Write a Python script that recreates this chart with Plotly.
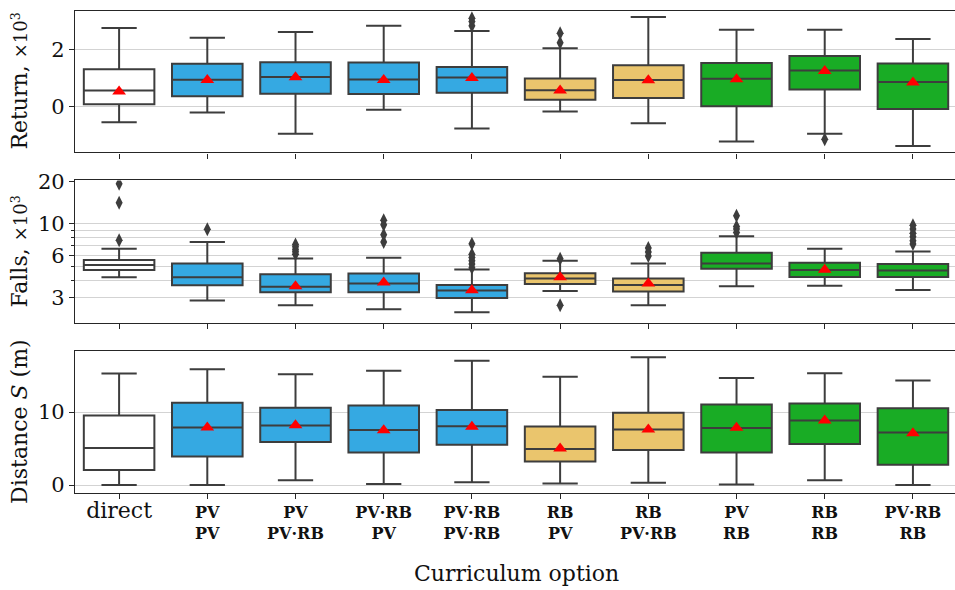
import plotly.graph_objects as go

# ---------------- data ----------------
stage1 = ["direct", "PV", "PV", "PV·RB", "PV·RB", "RB", "RB", "PV", "RB", "PV·RB"]
stage2 = ["", "PV", "PV·RB", "PV", "PV·RB", "PV", "PV·RB", "RB", "RB", "RB"]
box_colors = ["#FFFFFF", "#35A9E2", "#35A9E2", "#35A9E2", "#35A9E2",
              "#EAC56D", "#EAC56D", "#19AC25", "#19AC25", "#19AC25"]

# Return (x10^3)
ret_low = [-0.54, -0.20, -0.94, -0.10, -0.76, -0.16, -0.58, -1.22, -0.94, -1.37]
ret_q1 = [0.09, 0.37, 0.46, 0.45, 0.49, 0.25, 0.31, 0.02, 0.61, -0.08]
ret_med = [0.57, 0.95, 1.05, 0.96, 1.03, 0.58, 0.94, 0.98, 1.27, 0.87]
ret_q3 = [1.32, 1.51, 1.56, 1.55, 1.40, 0.99, 1.46, 1.54, 1.78, 1.52]
ret_high = [2.76, 2.42, 2.62, 2.84, 2.66, 2.05, 3.15, 2.70, 2.70, 2.38]
ret_mean = [0.54, 0.94, 1.04, 0.94, 1.01, 0.57, 0.93, 0.97, 1.26, 0.85]
ret_out = [[], [], [], [], [2.84, 2.99, 3.11], [2.25, 2.58], [], [], [-1.14], []]

# Falls (x10^3)
fall_low = [4.20, 2.88, 2.66, 2.50, 2.38, 3.36, 2.66, 3.62, 3.66, 3.41]
fall_q1 = [4.73, 3.68, 3.29, 3.29, 2.99, 3.76, 3.33, 4.83, 4.22, 4.22]
fall_med = [5.13, 4.20, 3.60, 3.80, 3.38, 4.11, 3.70, 5.26, 4.73, 4.68]
fall_q3 = [5.56, 5.26, 4.41, 4.46, 3.70, 4.48, 4.11, 6.25, 5.32, 5.21]
fall_high = [6.67, 7.45, 5.70, 5.77, 4.76, 5.50, 5.26, 8.17, 6.67, 6.39]
fall_mean = [None, None, 3.62, 3.85, 3.40, 4.20, 3.80, None, 4.75, None]
fall_out = [[7.66, 14.1, 19.2], [9.18], [6.1, 6.35, 6.6, 6.9, 7.15],
            [7.45, 8.38, 9.85, 10.6], [4.9, 5.2, 5.5, 5.8, 6.1, 7.25],
            [5.68, 2.66], [5.93, 6.32, 6.77], [8.71, 9.19, 9.6, 11.4], [],
            [7.2, 7.6, 8.1, 8.6, 9.2, 9.8]]

# Distance S (m)
dist_low = [0.0, 0.0, 0.68, 0.14, 0.40, 0.22, 0.31, 0.08, 0.68, 0.0]
dist_q1 = [2.07, 3.92, 5.90, 4.45, 5.54, 3.24, 4.82, 4.45, 5.63, 2.79]
dist_med = [5.08, 7.88, 8.15, 7.56, 8.06, 4.95, 7.61, 7.83, 8.83, 7.20]
dist_q3 = [9.54, 11.26, 10.58, 10.90, 10.27, 8.01, 9.90, 11.03, 11.17, 10.54]
dist_high = [15.27, 15.85, 15.18, 15.67, 17.03, 14.82, 17.52, 14.68, 15.31, 14.32]
dist_mean = [None, 7.9, 8.2, 7.5, 8.0, 5.0, 7.6, 7.85, 8.85, 7.1]
dist_out = [[] for _ in range(10)]

# ---------------- figure ----------------
FONT = "DejaVu Serif"
LINE = "#3d3d3d"
fig = go.Figure()

panels = [
    ("x", "y", ret_low, ret_q1, ret_med, ret_q3, ret_high, ret_mean, ret_out),
    ("x2", "y2", fall_low, fall_q1, fall_med, fall_q3, fall_high, fall_mean, fall_out),
    ("x3", "y3", dist_low, dist_q1, dist_med, dist_q3, dist_high, dist_mean, dist_out),
]

for xa, ya, lo, q1, md, q3, hi, mn, outs in panels:
    for i in range(len(stage1)):
        fig.add_trace(go.Box(
            x=[i], q1=[q1[i]], median=[md[i]], q3=[q3[i]],
            lowerfence=[lo[i]], upperfence=[hi[i]],
            width=0.8, whiskerwidth=0.5, boxpoints=False,
            fillcolor=box_colors[i], line=dict(color=LINE, width=2),
            xaxis=xa, yaxis=ya, showlegend=False, hoverinfo="skip"))
    ox, oy = [], []
    for i, vals in enumerate(outs):
        for v in vals:
            ox.append(i)
            oy.append(v)
    if ox:
        fig.add_trace(go.Scatter(
            x=ox, y=oy, mode="markers", xaxis=xa, yaxis=ya, showlegend=False,
            marker=dict(symbol="diamond-tall", size=10, color=LINE,
                        line=dict(width=0)), hoverinfo="skip"))
    mx = [i for i, v in enumerate(mn) if v is not None]
    my = [v for v in mn if v is not None]
    fig.add_trace(go.Scatter(
        x=mx, y=my, mode="markers", xaxis=xa, yaxis=ya, showlegend=False,
        marker=dict(symbol="triangle-up", size=12, color="red",
                    line=dict(width=0)), hoverinfo="skip"))

tick_text = []
for a, b in zip(stage1, stage2):
    if b == "":
        tick_text.append(f"<span style='font-size:22px;font-weight:normal'>{a}</span>")
    else:
        tick_text.append(f"<b>{a}</b><br><b>{b}</b>")

H = 590
bottom_px = 493.3
plot_h = H - 5 - (H - bottom_px)


def ydom(top_px, bot_px):
    return [(bottom_px - bot_px) / plot_h, (bottom_px - top_px) / plot_h]


xcommon = dict(range=[-0.5, 9.477], showline=True, linecolor="#262626",
               linewidth=1.2, mirror=True, ticks="outside", ticklen=5,
               tickcolor="#262626", tickvals=list(range(10)), showgrid=False,
               zeroline=False)
ycommon = dict(showline=True, linecolor="#262626", linewidth=1.2, mirror=False,
               ticks="outside", ticklen=5, tickcolor="#262626", showgrid=True,
               gridcolor="#d3d3d3", gridwidth=1, zeroline=False,
               tickfont=dict(family=FONT, size=21, color="#111"))

fig.update_layout(
    width=955, height=H,
    margin=dict(l=75, r=0, t=5, b=H - bottom_px),
    plot_bgcolor="white", paper_bgcolor="white",
    font=dict(family=FONT, color="#111"),
    xaxis=dict(**xcommon, anchor="y", domain=[0, 1], showticklabels=False),
    xaxis2=dict(**xcommon, anchor="y2", domain=[0, 1], showticklabels=False),
    xaxis3=dict(**xcommon, anchor="y3", domain=[0, 1], ticktext=tick_text,
                tickfont=dict(family=FONT, size=16, color="#111")),
    yaxis=dict(**ycommon, domain=ydom(5, 148.3), range=[-1.6, 3.36],
               tickvals=[0, 2]),
    yaxis2=dict(**ycommon, domain=ydom(176.7, 320.7), type="log",
                range=[0.3026, 1.3068], tickvals=[3, 6, 10, 20],
                ticktext=["3", "6", "10", "20"],
                minor=dict(tickvals=[4, 5, 7, 8, 9], ticks="outside", ticklen=3,
                           tickcolor="#262626", showgrid=True,
                           gridcolor="#d3d3d3", gridwidth=1)),
    yaxis3=dict(**ycommon, domain=ydom(349.3, 493.3), range=[-1.08, 18.38],
                tickvals=[0, 10]),
)

PW = 955 - 75
xt = (20 - 75) / PW
titles = [
    ("Return, <span style='font-size:18px'>×10<sup>3</sup></span>", 76.5),
    ("Falls, <span style='font-size:18px'>×10<sup>3</sup></span>", 248.7),
    ("Distance <i>S</i> (m)", 421.3),
]
for txt, ypx in titles:
    fig.add_annotation(text=txt, xref="paper", yref="paper", x=xt,
                       y=(bottom_px - ypx) / plot_h, xanchor="center",
                       yanchor="middle", textangle=-90, showarrow=False,
                       font=dict(family=FONT, size=22, color="#111"))

fig.add_annotation(text="Curriculum option", xref="paper", yref="paper",
                   x=(516 - 75) / PW, y=(bottom_px - 575) / plot_h,
                   xanchor="center", yanchor="middle", showarrow=False,
                   font=dict(family=FONT, size=22, color="#111"))

fig.write_html("out.html")
